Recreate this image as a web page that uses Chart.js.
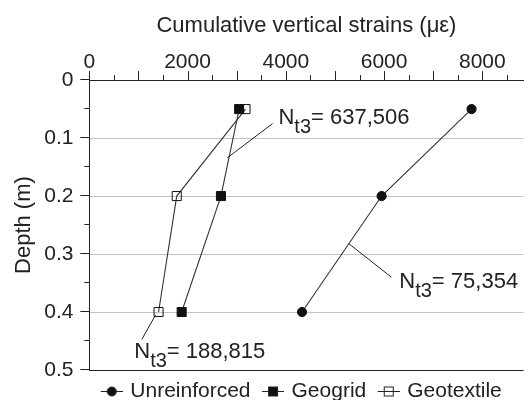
<!DOCTYPE html>
<html>
<head>
<meta charset="utf-8">
<script src="https://cdn.jsdelivr.net/npm/chart.js@4.4.1/dist/chart.umd.min.js"></script>
<style>
  html, body { margin: 0; padding: 0; background: #fff; }
  #wrap { width: 531px; height: 400px; }
</style>
</head>
<body>
<div id="wrap"><canvas id="strain-chart"></canvas></div>
<script>
// Depths of the measuring points (m)
const depths = [0.05, 0.2, 0.4];

// Cumulative vertical strains (micro-strain) per section
const unreinforced = [7780, 5950, 4330];
const geogrid = [3050, 2680, 1880];
const geotextile = [3180, 1780, 1410];

const seriesNames = ["Unreinforced", "Geogrid", "Geotextile"];

// Tick labels
const strainTicks = [0, 2000, 4000, 6000, 8000];
const depthTicks = [0, 0.1, 0.2, 0.3, 0.4, 0.5];

// Number of load cycles N_t3 written next to each curve
const cycleCounts = ["637,506", "75,354", "188,815"];

const FONT = "'Liberation Sans', Arial, sans-serif";
const INK = "#222";

Chart.defaults.font.family = FONT;
Chart.defaults.color = INK;

function toPoints(strains) {
    return strains.map((s, i) => ({ x: s, y: depths[i] }));
}

// Legend icon: short line with the marker on it
function legendIcon(style, fill) {
    const c = document.createElement("canvas");
    c.width = 26;
    c.height = 12;
    const g = c.getContext("2d");
    g.strokeStyle = INK;
    g.lineWidth = 1;
    g.beginPath();
    g.moveTo(4, 6.5);
    g.lineTo(26, 6.5);
    g.stroke();
    g.fillStyle = fill;
    if (style === "circle") {
        g.beginPath();
        g.arc(15, 6.5, 4.5, 0, Math.PI * 2);
        g.fill();
        g.stroke();
    } else {
        g.fillRect(10.5, 2, 9, 9);
        g.strokeRect(10.5, 2, 9, 9);
    }
    return c;
}
const legendIcons = [
    legendIcon("circle", "#111"),
    legendIcon("rect", "#111"),
    legendIcon("rect", "rgba(0,0,0,0)")
];

// Where the N_t3 notes sit (strain, depth): text start, leader line start and end
const notePlaces = [
    { text: [3850, 0.076], from: [3730, 0.075], to: [2810, 0.134] },
    { text: [6310, 0.359], from: [5280, 0.282], to: [6150, 0.340] },
    { text: [915, 0.479], from: [1350, 0.405], to: [1070, 0.447] }
];

// Draws the outside tick marks (major + minor) and the N_t3 notes
const extras = {
    id: "extras",
    afterDraw(chart) {
        const { ctx, chartArea: area, scales: { x, y } } = chart;
        ctx.save();
        ctx.strokeStyle = INK;
        ctx.fillStyle = INK;
        ctx.lineWidth = 1;

        ctx.beginPath();
        for (let v = 0; v <= x.max; v += 500) {
            const px = Math.round(x.getPixelForValue(v)) + 0.5;
            const len = v % 1000 === 0 ? 9 : 5;
            ctx.moveTo(px, area.top);
            ctx.lineTo(px, area.top - len);
        }
        for (let i = 0; i <= 10; i++) {
            const py = Math.round(y.getPixelForValue(i * 0.05)) - 0.5;
            const len = i % 2 === 0 ? 9 : 5;
            ctx.moveTo(area.left, py);
            ctx.lineTo(area.left - len, py);
        }
        ctx.stroke();

        notePlaces.forEach((p, i) => {
            ctx.beginPath();
            ctx.moveTo(x.getPixelForValue(p.from[0]), y.getPixelForValue(p.from[1]));
            ctx.lineTo(x.getPixelForValue(p.to[0]), y.getPixelForValue(p.to[1]));
            ctx.stroke();

            const tx = x.getPixelForValue(p.text[0]);
            const ty = y.getPixelForValue(p.text[1]);
            ctx.textAlign = "left";
            ctx.textBaseline = "alphabetic";
            ctx.font = "22px " + FONT;
            ctx.fillText("N", tx, ty);
            let cx = tx + ctx.measureText("N").width;
            ctx.font = "20px " + FONT;
            ctx.fillText("t3", cx, ty + 9);
            cx += ctx.measureText("t3").width;
            ctx.font = "22px " + FONT;
            ctx.fillText("= " + cycleCounts[i], cx, ty);
        });
        ctx.restore();
    }
};

new Chart(document.getElementById("strain-chart"), {
    type: "line",
    data: {
        datasets: [{
            label: seriesNames[0],
            data: toPoints(unreinforced),
            pointStyle: "circle",
            pointRadius: 4.6,
            pointBackgroundColor: "#111"
        }, {
            label: seriesNames[1],
            data: toPoints(geogrid),
            pointStyle: "rect",
            pointRadius: 6.4,
            pointBackgroundColor: "#111"
        }, {
            label: seriesNames[2],
            data: toPoints(geotextile),
            pointStyle: "rect",
            pointRadius: 6.4,
            pointBackgroundColor: "rgba(0,0,0,0)"
        }].map(d => Object.assign({
            borderColor: "#333",
            borderWidth: 1.1,
            pointBorderColor: "#111",
            pointBorderWidth: 1,
            tension: 0,
            fill: false
        }, d))
    },
    options: {
        responsive: true,
        maintainAspectRatio: false,
        animation: false,
        layout: { padding: { top: 2, left: 0, right: 0, bottom: 0 } },
        scales: {
            x: {
                type: "linear",
                position: "top",
                min: 0,
                max: 8840,
                afterBuildTicks: axis => { axis.ticks = strainTicks.map(v => ({ value: v })); },
                ticks: {
                    font: { size: 21 },
                    padding: 5,
                    autoSkip: false,
                    maxRotation: 0,
                    callback: value => String(value)
                },
                grid: { drawOnChartArea: false, drawTicks: false },
                border: { display: true, color: INK, width: 1 },
                title: {
                    display: true,
                    text: "Cumulative vertical strains (με)",
                    font: { size: 22 },
                    padding: { top: 10.5, bottom: 6 }
                }
            },
            y: {
                type: "linear",
                reverse: true,
                min: 0,
                max: 0.5,
                afterBuildTicks: axis => { axis.ticks = depthTicks.map(v => ({ value: v })); },
                ticks: {
                    font: { size: 21 },
                    padding: 15.8,
                    callback: value => value === 0 ? "0" : value.toFixed(1)
                },
                grid: {
                    drawTicks: false,
                    lineWidth: 1,
                    color: c => {
                        const v = c.tick ? c.tick.value : null;
                        if (v === 0.5) return INK;
                        if (v === 0) return "rgba(0,0,0,0)";
                        return "#c2c2c2";
                    }
                },
                border: { display: true, color: INK, width: 1 },
                title: {
                    display: true,
                    text: "Depth (m)",
                    font: { size: 22 },
                    padding: { top: 10.5, bottom: -8.4 }
                }
            }
        },
        plugins: {
            legend: {
                position: "bottom",
                align: "start",
                fullSize: false,
                maxHeight: 30,
                labels: {
                    font: { size: 21 },
                    color: INK,
                    usePointStyle: true,
                    pointStyleWidth: 20,
                    padding: 10.5,
                    generateLabels: chart => {
                        const items = Chart.defaults.plugins.legend.labels.generateLabels(chart);
                        items.forEach(it => { it.pointStyle = legendIcons[it.datasetIndex]; });
                        return items;
                    }
                }
            },
            tooltip: { enabled: false }
        }
    },
    plugins: [extras]
});
</script>
</body>
</html>
